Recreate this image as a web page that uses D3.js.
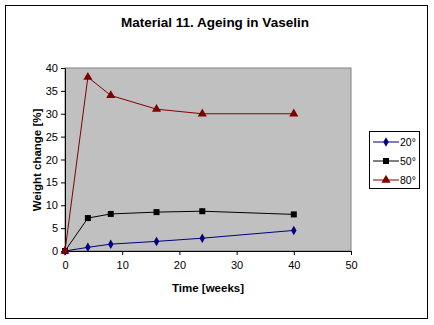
<!DOCTYPE html>
<html>
<head>
<meta charset="utf-8">
<script src="https://cdn.jsdelivr.net/npm/d3@7"></script>
<style>
  body { margin: 0; background: #fff; }
  svg { display: block; font-family: "Liberation Sans", Arial, sans-serif; }
</style>
</head>
<body>
<svg id="chart" width="434" height="325"></svg>
<script>
// weeks of ageing and weight change per temperature
const weeks = [0, 4, 8, 16, 24, 40];
const w20 = [0, 0.8, 1.5, 2.1, 2.8, 4.5];
const w50 = [0, 7.2, 8.1, 8.5, 8.7, 8.0];
const w80 = [0, 38, 34, 31, 30, 30];
const seriesNames = ['20°', '50°', '80°'];
const xTicks = [0, 10, 20, 30, 40, 50];
const yTicks = [0, 5, 10, 15, 20, 25, 30, 35, 40];

const series = [
  { name: seriesNames[0], values: w20, color: '#000080', shape: d3.symbolDiamond, size: 26 },
  { name: seriesNames[1], values: w50, color: '#000000', shape: d3.symbolSquare, size: 36 },
  { name: seriesNames[2], values: w80, color: '#800000', shape: d3.symbolTriangle, size: 36 },
];

const svg = d3.select('#chart');

// outer frame
svg.append('rect')
  .attr('x', 5.5).attr('y', 5.5).attr('width', 422).attr('height', 313)
  .attr('fill', '#fff').attr('stroke', '#000');

const x = d3.scaleLinear().domain([0, 50]).range([65, 351]);
const y = d3.scaleLinear().domain([0, 40]).range([251, 68]);

// plot area
svg.append('rect')
  .attr('x', x(0)).attr('y', y(40))
  .attr('width', x(50) - x(0)).attr('height', y(0) - y(40))
  .attr('fill', '#c0c0c0').attr('stroke', '#808080');

svg.append('g')
  .attr('transform', `translate(0,${y(0)})`)
  .call(d3.axisBottom(x).tickValues(xTicks).tickSize(4).tickPadding(6))
  .call(g => g.select('.domain').attr('stroke', '#000'))
  .selectAll('text').attr('font-size', 11).attr('fill', '#000');

svg.append('g')
  .attr('transform', `translate(${x(0)},0)`)
  .call(d3.axisLeft(y).tickValues(yTicks).tickSize(4).tickPadding(3))
  .call(g => g.select('.domain').attr('stroke', '#000'))
  .selectAll('text').attr('font-size', 11).attr('fill', '#000');

const line = d3.line().x((d, i) => x(weeks[i])).y(d => y(d));

series.forEach(s => {
  svg.append('path')
    .attr('d', line(s.values))
    .attr('fill', 'none')
    .attr('stroke', s.color)
    .attr('stroke-width', 1);
  svg.selectAll(null)
    .data(s.values).join('path')
    .attr('transform', (d, i) => `translate(${x(weeks[i])},${y(d)})`)
    .attr('d', d3.symbol().type(s.shape).size(s.size))
    .attr('fill', s.color);
});

// titles
svg.append('text')
  .attr('x', 215).attr('y', 27)
  .attr('text-anchor', 'middle')
  .attr('font-size', 13.5).attr('font-weight', 'bold')
  .text('Material 11. Ageing in Vaselin');

svg.append('text')
  .attr('x', 208).attr('y', 292)
  .attr('text-anchor', 'middle')
  .attr('font-size', 11.5).attr('font-weight', 'bold')
  .text('Time [weeks]');

svg.append('text')
  .attr('transform', 'translate(41,160) rotate(-90)')
  .attr('text-anchor', 'middle')
  .attr('font-size', 11.5).attr('font-weight', 'bold')
  .text('Weight change [%]');

// legend
const lg = svg.append('g').attr('transform', 'translate(369,131)');
lg.append('rect')
  .attr('x', 0.5).attr('y', 0.5).attr('width', 50).attr('height', 57)
  .attr('fill', '#fff').attr('stroke', '#000');

series.forEach((s, i) => {
  const ly = 11 + i * 19;
  lg.append('line')
    .attr('x1', 4).attr('x2', 30).attr('y1', ly).attr('y2', ly)
    .attr('stroke', s.color);
  lg.append('path')
    .attr('transform', `translate(17,${ly})`)
    .attr('d', d3.symbol().type(s.shape).size(s.size))
    .attr('fill', s.color);
  lg.append('text')
    .attr('x', 31).attr('y', ly + 4)
    .attr('font-size', 10.5)
    .text(s.name);
});
</script>
</body>
</html>
